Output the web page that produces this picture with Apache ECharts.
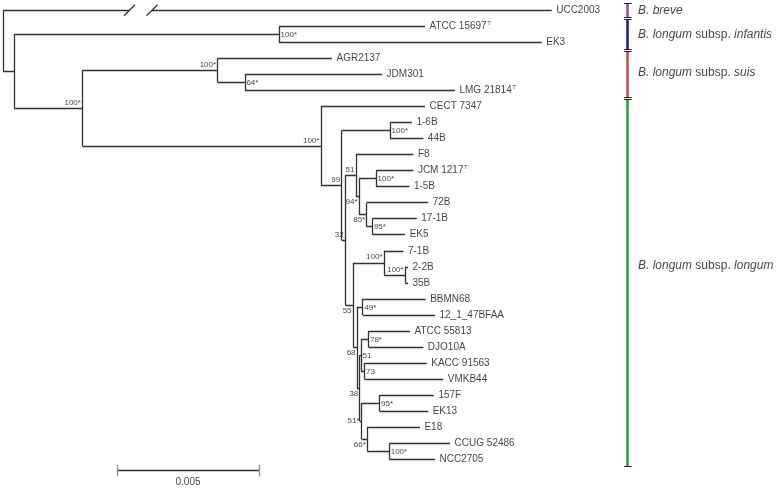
<!DOCTYPE html>
<html><head><meta charset="utf-8">
<script src="https://cdn.jsdelivr.net/npm/echarts@6/dist/echarts.min.js"></script>
<style>html,body{margin:0;padding:0;background:#fff}#c{width:780px;height:488px}</style>
</head><body><div id="c"></div>
<script>
// ---------- data (branch positions in units of 0.001 substitutions/site) ----------
const leafNames = ['UCC2003','ATCC 15697','EK3','AGR2137','JDM301','LMG 21814','CECT 7347','1-6B','44B','F8','JCM 1217','1-5B','72B','17-1B','EK5','7-1B','2-2B','35B','BBMN68','12_1_47BFAA','ATCC 55813','DJO10A','KACC 91563','VMKB44','157F','EK13','E18','CCUG 52486','NCC2705'];
const leafDist = [19.28,14.83,18.93,11.56,13.32,15.88,14.83,14.37,14.77,14.42,14.42,14.28,14.94,14.54,14.13,14.07,14.23,14.23,14.85,15.18,14.30,14.77,14.89,15.47,15.14,14.94,14.65,15.71,15.18];
const typeStrains = ['ATCC 15697','LMG 21814','JCM 1217'];
const brokenLeaf = 'UCC2003';

const nodeIds = ['root','n1','nInf','nSL','nSuis','n64','nLongum','n99','n16','n32','n51a','n94','nJCM','n85','n95a','n55','n71','n22','n68','n49','n38','n51b','n78','n73','n51s','n95b','n66','n100c'];
const nodeDist = [0,0.39,9.70,2.79,7.54,8.50,11.17,11.90,13.60,12.02,12.40,12.51,13.11,12.78,12.98,12.30,13.39,14.13,12.44,12.64,12.53,12.58,12.84,12.70,12.60,13.23,12.80,13.57];
const nodeChildren = [['UCC2003','n1'],['nInf','nSL'],['ATCC 15697','EK3'],['nSuis','nLongum'],['AGR2137','n64'],['JDM301','LMG 21814'],['CECT 7347','n99'],['n16','n32'],['1-6B','44B'],['n51a','n55'],['F8','n94'],['nJCM','n85'],['JCM 1217','1-5B'],['72B','n95a'],['17-1B','EK5'],['n71','n68'],['7-1B','n22'],['2-2B','35B'],['n49','n38'],['BBMN68','12_1_47BFAA'],['n51b','n51s'],['n78','n73'],['ATCC 55813','DJO10A'],['KACC 91563','VMKB44'],['n95b','n66'],['157F','EK13'],['E18','n100c'],['CCUG 52486','NCC2705']];
const nodeSupport = ['','','100*','100*','100*','64*','100*','99','100*','32','51','94*','100*','85*','95*','55','100*','100*','68','49*','38','51','78*','73','51*','95*','66*','100*'];

const cladeNames = ['breve','infantis','suis','longum'];
const cladeFirstLeaf = ['UCC2003','ATCC 15697','AGR2137','CECT 7347'];
const cladeLastLeaf = ['UCC2003','EK3','LMG 21814','NCC2705'];
const scaleBarValue = 0.005;

// ---------- presentation ----------
const cladeColors = ['#b23cb6','#1e1e8c','#c4504e','#2f9e35'];
const cladeLabelRow = [0, 1.5, 3.9, 15.9];
const supportPlacement = {nInf:'r',n64:'r',n16:'r',nJCM:'r',n95a:'r',n49:'r',n51b:'r',n78:'r',n73:'r',n95b:'r',n100c:'r',
  nSL:'la',nSuis:'la',nLongum:'la',n99:'la',n32:'la',n51a:'la',n71:'la',n22:'la',
  n94:'lb',n85:'lb',n55:'lb',n68:'lb',n38:'lb',n66:'lb',n51s:'l'};
const PXU = 28.46, PXR = 16.03;
const FONT = 'Liberation Sans, Arial, sans-serif';
const LINE = '#333';

// ---------- layout ----------
const xOf = {}, yOf = {}, kids = {};
leafNames.forEach((n,i)=>{ xOf[n]=leafDist[i]; yOf[n]=i; });
nodeIds.forEach((n,i)=>{ xOf[n]=nodeDist[i]; kids[n]=nodeChildren[i]; });
function yPos(n){ if (yOf[n]!==undefined) return yOf[n]; const c=kids[n]; return (yOf[n]=(yPos(c[0])+yPos(c[1]))/2); }
nodeIds.forEach(yPos);

const treeSegs = [];
const bx = 5.5/PXU, by = 5.5/PXR;
nodeIds.forEach(n=>{
  const c = kids[n], x = xOf[n];
  treeSegs.push({coords:[[x,yOf[c[0]]],[x,yOf[c[1]]]]});
  c.forEach(ch=>{
    if (ch===brokenLeaf){
      const b1 = (129.5-3)/PXU, b2 = (152-3)/PXU, yy = yOf[ch];
      treeSegs.push({coords:[[x,yy],[b1,yy]]});
      treeSegs.push({coords:[[b2,yy],[xOf[ch],yy]]});
      treeSegs.push({coords:[[b1-bx,yy+by],[b1+bx,yy-by]]});
      treeSegs.push({coords:[[b2-bx,yy+by],[b2+bx,yy-by]]});
    } else {
      treeSegs.push({coords:[[x,yOf[ch]],[xOf[ch],yOf[ch]]]});
    }
  });
});

// scale bar
const sbX0 = 4, sbX1 = sbX0 + scaleBarValue*1000, sbY = 28.72, sbT = 5.8/PXR;
const scaleSegs = [{coords:[[sbX0,sbY],[sbX1,sbY]]}];
const scaleTicks = [{coords:[[sbX0,sbY-sbT],[sbX0,sbY+sbT]]},{coords:[[sbX1,sbY-sbT],[sbX1,sbY+sbT]]}];

// clade bars
const barX = (627.7-3)/PXU, capW = 3.8/PXU, pad = 0.45;
const cladeSeries = [];
const capSegs = [];
cladeNames.forEach((c,i)=>{
  const y0 = yOf[cladeFirstLeaf[i]]-pad, y1 = yOf[cladeLastLeaf[i]]+pad;
  cladeSeries.push({type:'lines',coordinateSystem:'cartesian2d',silent:true,z:3,
    lineStyle:{color:cladeColors[i],width:2.6,opacity:1},data:[{coords:[[barX,y0],[barX,y1]]}]});
  capSegs.push({coords:[[barX-capW,y0],[barX+capW,y0]]},{coords:[[barX-capW,y1],[barX+capW,y1]]});
});
const cladeText = {
  breve:'{i|B. breve}',
  infantis:'{i|B. longum} {n|subsp.} {i|infantis}',
  suis:'{i|B. longum} {n|subsp.} {i|suis}',
  longum:'{i|B. longum} {n|subsp.} {i|longum}'
};

// support labels
const supportData = [];
nodeIds.forEach((n,i)=>{
  if (!nodeSupport[i]) return;
  const p = supportPlacement[n];
  let lab;
  if (p==='r') lab = {position:'right',distance:1.5,offset:[0,0.5]};
  else if (p==='la') lab = {position:'left',distance:1.5,offset:[0,-5.5]};
  else if (p==='lb') lab = {position:'left',distance:1.5,offset:[0,5.5]};
  else lab = {position:'left',distance:2,offset:[0,0]};
  supportData.push({value:[xOf[n],yOf[n]],name:nodeSupport[i],label:lab});
});

const chart = echarts.init(document.getElementById('c'),null,{renderer:'canvas'});
chart.setOption({
  animation:false,
  backgroundColor:'#fff',
  grid:{left:3,top:2.3,width:27*PXU,height:30*PXR},
  xAxis:{type:'value',min:0,max:27,show:false},
  yAxis:{type:'value',min:-0.5,max:29.5,inverse:true,show:false},
  series:[
    {type:'lines',coordinateSystem:'cartesian2d',silent:true,data:treeSegs,lineStyle:{color:LINE,width:1.3,opacity:1}},
    {type:'lines',coordinateSystem:'cartesian2d',silent:true,data:scaleSegs,lineStyle:{color:LINE,width:1.4,opacity:1}},
    {type:'lines',coordinateSystem:'cartesian2d',silent:true,data:scaleTicks,lineStyle:{color:'#8a8a8a',width:1.2,opacity:1}},
    ...cladeSeries,
    {type:'lines',coordinateSystem:'cartesian2d',silent:true,z:4,data:capSegs,lineStyle:{color:'#222',width:1.2,opacity:1}},
    {type:'scatter',silent:true,symbolSize:0,
      data:leafNames.map((n,i)=>({value:[leafDist[i],i],name:n})),
      label:{show:true,position:'right',distance:4.5,fontFamily:FONT,fontSize:10,color:'#111',
        formatter:p=>typeStrains.includes(p.name)?`{n|${p.name}}{s|T}`:`{n|${p.name}}`,
        rich:{n:{fontFamily:FONT,fontSize:10,color:'#111',lineHeight:12},
              s:{fontFamily:FONT,fontSize:6,color:'#111',verticalAlign:'top',lineHeight:6,padding:[0,0,4,0.5]}}}},
    {type:'scatter',silent:true,symbolSize:0,data:supportData,
      label:{show:true,fontFamily:FONT,fontSize:8,color:'#111',formatter:p=>p.name}},
    {type:'scatter',silent:true,symbolSize:0,
      data:cladeNames.map((c,i)=>({value:[barX+(638-627.7)/PXU,cladeLabelRow[i]],name:c})),
      label:{show:true,position:'right',distance:0,fontFamily:FONT,fontSize:12,color:'#111',
        formatter:p=>cladeText[p.name],
        rich:{i:{fontFamily:FONT,fontSize:12,fontStyle:'italic',color:'#111'},
              n:{fontFamily:FONT,fontSize:12,color:'#111'}}}},
    {type:'scatter',silent:true,symbolSize:0,
      data:[{value:[(sbX0+sbX1)/2,29.43],name:String(scaleBarValue)}],
      label:{show:true,position:'inside',fontFamily:FONT,fontSize:10,color:'#111',formatter:p=>p.name}}
  ]
});
</script></body></html>
